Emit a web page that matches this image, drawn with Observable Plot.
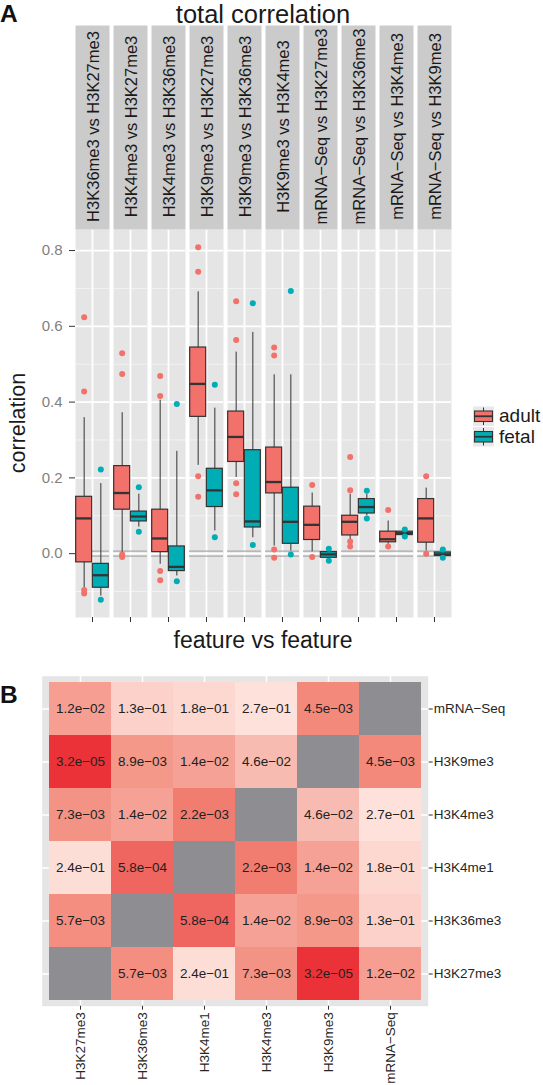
<!DOCTYPE html>
<html>
<head>
<meta charset="utf-8">
<script src="https://cdn.jsdelivr.net/npm/d3@7"></script>
<script src="https://cdn.jsdelivr.net/npm/@observablehq/plot@0.6"></script>
<style>
  body { margin: 0; background: #fff; }
  #wrap { position: relative; width: 543px; height: 1085px; overflow: hidden; background: #fff;
          font-family: "Liberation Sans", Arial, Helvetica, sans-serif; }
  #wrap > svg { position: absolute; left: 0; margin: 0; }
</style>
</head>
<body>
<div id="wrap"></div>
<script>
// ---------------- Panel A data ----------------
const comparisons = [
  "H3K36me3 vs H3K27me3", "H3K4me3 vs H3K27me3", "H3K4me3 vs H3K36me3",
  "H3K9me3 vs H3K27me3", "H3K9me3 vs H3K36me3", "H3K9me3 vs H3K4me3",
  "mRNA-Seq vs H3K27me3", "mRNA-Seq vs H3K36me3", "mRNA-Seq vs H3K4me3", "mRNA-Seq vs H3K9me3"
];
const groups = ["adult", "fetal"];

const adultWhiskerLow  = [-0.090, 0.003, -0.028, 0.233, 0.201, 0.020, 0.005, 0.033, 0.025, 0.007];
const adultQ1          = [-0.023, 0.116,  0.004, 0.361, 0.242, 0.159, 0.036, 0.048, 0.030, 0.029];
const adultMedian      = [ 0.093, 0.160,  0.040, 0.448, 0.308, 0.189, 0.076, 0.084, 0.038, 0.093];
const adultQ3          = [ 0.150, 0.231,  0.116, 0.544, 0.375, 0.280, 0.124, 0.100, 0.058, 0.144];
const adultWhiskerHigh = [ 0.359, 0.372,  0.405, 0.691, 0.532, 0.472, 0.160, 0.157, 0.086, 0.173];
const adultOutliers = [
  [0.624, 0.428, -0.096, -0.105], [0.529, 0.474, -0.002, -0.009], [0.469, 0.416, -0.046, -0.070],
  [0.809, 0.744, 0.204, 0.150], [0.666, 0.564, 0.186, 0.157], [0.544, 0.523, 0.011, -0.011],
  [0.181, -0.009], [0.255, 0.167, 0.032, 0.019], [0.115, 0.019], [0.204, 0.000]
];

const fetalWhiskerLow  = [-0.112, 0.070, -0.059, 0.060, 0.042, 0.007, -0.015, 0.100, 0.049, -0.009];
const fetalQ1          = [-0.090, 0.085, -0.046, 0.123, 0.069, 0.026, -0.011, 0.106, 0.049, -0.006];
const fetalMedian      = [-0.057, 0.098, -0.035, 0.167, 0.085, 0.084, -0.002, 0.123, 0.054, -0.002];
const fetalQ3          = [-0.027, 0.111,  0.019, 0.224, 0.273, 0.174,  0.004, 0.144, 0.058,  0.003];
const fetalWhiskerHigh = [ 0.185, 0.157,  0.270, 0.384, 0.584, 0.472,  0.009, 0.157, 0.058,  0.006];
const fetalOutliers = [
  [0.222, -0.122], [0.175, 0.058], [0.395, -0.073], [0.446, 0.043], [0.661, 0.023],
  [0.693, -0.002], [0.013, -0.019], [0.166, 0.093], [0.064, 0.045], [0.011, -0.011]
];

const yTicks = [0, 0.2, 0.4, 0.6, 0.8];
const yMinorTicks = [-0.1, 0.1, 0.3, 0.5, 0.7];
const zeroBand = [-0.0065, 0.0065];

// ---------------- Panel B data ----------------
const features = ["H3K27me3", "H3K36me3", "H3K4me1", "H3K4me3", "H3K9me3", "mRNA-Seq"];
const pValues = [
  [null,   5.7e-3, 2.4e-1, 7.3e-3, 3.2e-5, 1.2e-2],
  [5.7e-3, null,   5.8e-4, 1.4e-2, 8.9e-3, 1.3e-1],
  [2.4e-1, 5.8e-4, null,   2.2e-3, 1.4e-2, 1.8e-1],
  [7.3e-3, 1.4e-2, 2.2e-3, null,   4.6e-2, 2.7e-1],
  [3.2e-5, 8.9e-3, 1.4e-2, 4.6e-2, null,   4.5e-3],
  [1.2e-2, 1.3e-1, 1.8e-1, 2.7e-1, 4.5e-3, null]
];

// ---------------- build tables ----------------
const stats = {
  adult: {lo: adultWhiskerLow, q1: adultQ1, med: adultMedian, q3: adultQ3, hi: adultWhiskerHigh, out: adultOutliers},
  fetal: {lo: fetalWhiskerLow, q1: fetalQ1, med: fetalMedian, q3: fetalQ3, hi: fetalWhiskerHigh, out: fetalOutliers}
};
const boxes = comparisons.flatMap((c, i) => groups.map(g => ({
  comparison: c, group: g,
  lo: stats[g].lo[i], q1: stats[g].q1[i], med: stats[g].med[i], q3: stats[g].q3[i], hi: stats[g].hi[i]
})));
const outliers = comparisons.flatMap((c, i) => groups.flatMap(g =>
  stats[g].out[i].map(v => ({comparison: c, group: g, value: v}))));

// y domain like ggplot: data extent expanded by 5%
const allY = boxes.flatMap(d => [d.lo, d.hi]).concat(outliers.map(d => d.value));
const [yMin, yMax] = d3.extent(allY);
const pad = (yMax - yMin) * 0.05;
const yDomain = [yMin - pad, yMax + pad];

// dodge slots within each facet (facet-local x in [0, 1])
const slot = {adult: [0.02, 0.49], fetal: [0.51, 0.98]};
const mid = g => (slot[g][0] + slot[g][1]) / 2;
const minus = s => s.replace(/-/g, "\u2212");

const FONT = '"Liberation Sans", Arial, Helvetica, sans-serif';
const colors = ["#F2716B", "#00ADB4"];

const W = 543, H1 = 670;
const mTop = 229, mBottom = 53;
const stripTop = 25;
const innerH = H1 - mTop - mBottom;

const plotA = Plot.plot({
  width: W, height: H1,
  marginTop: mTop, marginBottom: mBottom, marginLeft: 74, marginRight: 91,
  style: {fontFamily: FONT, background: "transparent"},
  fx: {domain: comparisons, paddingInner: 0.11, paddingOuter: 0, axis: null, label: null},
  x: {domain: [0, 1], axis: null, label: null},
  y: {domain: yDomain, axis: null, label: null},
  color: {domain: groups, range: colors},
  marks: [
    Plot.frame({fill: "#E5E5E5", stroke: "none"}),
    Plot.ruleY(yMinorTicks, {stroke: "#F2F2F2", strokeWidth: 1}),
    Plot.ruleY(yTicks, {stroke: "#FFFFFF", strokeWidth: 1.8}),
    Plot.ruleX([0.5], {stroke: "#FFFFFF", strokeWidth: 1.8}),
    Plot.ruleY(zeroBand, {stroke: "#A9A9A9", strokeWidth: 1.3}),
    Plot.ruleX(boxes, {fx: "comparison", x: d => mid(d.group), y1: "lo", y2: "hi", stroke: "#333333", strokeWidth: 1}),
    Plot.rect(boxes, {fx: "comparison", x1: d => slot[d.group][0], x2: d => slot[d.group][1],
      y1: "q1", y2: "q3", fill: "group", stroke: "#333333", strokeWidth: 1.2}),
    Plot.ruleY(boxes, {fx: "comparison", x1: d => slot[d.group][0], x2: d => slot[d.group][1],
      y: "med", stroke: "#333333", strokeWidth: 2.3}),
    Plot.dot(outliers, {fx: "comparison", x: d => mid(d.group), y: "value", fill: "group", r: 3, stroke: "none"}),
    // facet strips
    Plot.frame({fill: "#CBCBCB", stroke: "none", insetTop: -(mTop - stripTop), insetBottom: innerH}),
    Plot.text(comparisons, {fx: d => d, text: d => minus(d), frameAnchor: "top",
      rotate: -90, dx: -5.5, dy: -(mTop - stripTop) / 2 - 1, fontSize: 16.5, fill: "#1A1A1A"}),
    Plot.axisY(yTicks, {tickSize: 6, tickPadding: 7, tickFormat: d3.format(".1f"), fontSize: 15,
      fill: "#7F7F7F", stroke: "#333333", label: null}),
    Plot.axisX([0.5], {tickSize: 5, tickFormat: () => "", stroke: "#333333", label: null})
  ]
});
plotA.style.top = "0px";

// ---------------- Panel B ----------------
const cells = features.flatMap((r, i) => features.map((c, j) => ({row: r, col: c, p: pValues[i][j]})));
const cellsNA = cells.filter(d => d.p == null);
const cellsVal = cells.filter(d => d.p != null);
const fmtP = p => {
  const [m, e] = p.toExponential(1).split("e");
  const n = Math.abs(+e);
  return m + "e" + (+e < 0 ? "\u2212" : "+") + String(n).padStart(2, "0");
};

const H2 = 415;
const plotB = Plot.plot({
  width: W, height: H2,
  marginTop: 10.7, marginBottom: 84.3, marginLeft: 46.7, marginRight: 120.3,
  style: {fontFamily: FONT, background: "transparent"},
  x: {domain: features, padding: 0, axis: null, label: null},
  y: {domain: features.slice().reverse(), padding: 0, axis: null, label: null},
  color: {type: "linear", domain: [Math.log10(3.2e-5), Math.log10(4.5e-3), Math.log10(2.7e-1)],
          range: ["#EB3238", "#F2897A", "#FDE1DA"], interpolate: "rgb"},
  marks: [
    Plot.frame({fill: "#E5E5E5", stroke: "none", inset: -5}),
    Plot.gridX({stroke: "#FFFFFF", strokeOpacity: 1, strokeWidth: 1.5, insetTop: -5, insetBottom: -5}),
    Plot.gridY({stroke: "#FFFFFF", strokeOpacity: 1, strokeWidth: 1.5, insetLeft: -5, insetRight: -5}),
    Plot.cell(cellsNA, {x: "col", y: "row", fill: "#8E8E92", inset: 0}),
    Plot.cell(cellsVal, {x: "col", y: "row", fill: d => Math.log10(d.p), inset: 0}),
    Plot.text(cellsVal, {x: "col", y: "row", text: d => fmtP(d.p), fontSize: 13.5, fill: "#222222"}),
    Plot.axisY({anchor: "right", tickSize: 4, tickPadding: 1.5, dx: 5, fontSize: 13.5,
      tickFormat: minus, fill: "#262626", stroke: "#333333", label: null}),
    Plot.axisX({anchor: "bottom", tickRotate: -90, tickSize: 4, tickPadding: 2, dy: 5, fontSize: 13.5,
      tickFormat: minus, fill: "#262626", stroke: "#333333", label: null})
  ]
});
plotB.style.top = H1 + "px";

const wrap = document.getElementById("wrap");
wrap.appendChild(plotA);
wrap.appendChild(plotB);

// ---------------- titles, panel letters, legend ----------------
const ov = d3.create("svg")
  .attr("width", W).attr("height", 1085)
  .style("position", "absolute").style("left", "0px").style("top", "0px")
  .style("pointer-events", "none").style("font-family", FONT);

ov.append("text").attr("x", 0).attr("y", 21.5).attr("font-size", 24.5).attr("font-weight", "bold")
  .attr("fill", "#111").text("A");
ov.append("text").attr("x", 0).attr("y", H1 + 33).attr("font-size", 24.5).attr("font-weight", "bold")
  .attr("fill", "#111").text("B");
ov.append("text").attr("x", 263).attr("y", 23).attr("font-size", 25.5).attr("text-anchor", "middle")
  .attr("fill", "#1A1A1A").text("total correlation");
ov.append("text").attr("x", 263).attr("y", 648).attr("font-size", 23).attr("text-anchor", "middle")
  .attr("fill", "#1A1A1A").text("feature vs feature");
ov.append("text").attr("transform", `translate(25,${mTop + innerH / 2}) rotate(-90)`)
  .attr("font-size", 21.5).attr("text-anchor", "middle").attr("fill", "#1A1A1A").text("correlation");

const colorScale = plotA.scale("color");
groups.forEach((g, i) => {
  const y0 = 406.5 + i * 20.5;
  const k = ov.append("g").attr("transform", `translate(473,${y0})`);
  k.append("rect").attr("width", 21).attr("height", 19.5).attr("fill", "#E8E8E8");
  k.append("line").attr("x1", 10.5).attr("x2", 10.5).attr("y1", 1).attr("y2", 18.5)
    .attr("stroke", "#333").attr("stroke-width", 1);
  k.append("rect").attr("x", 1.5).attr("y", 4.5).attr("width", 18).attr("height", 10.5)
    .attr("fill", colorScale.apply(g)).attr("stroke", "#333").attr("stroke-width", 1.1);
  k.append("line").attr("x1", 1.5).attr("x2", 19.5).attr("y1", 9.75).attr("y2", 9.75)
    .attr("stroke", "#333").attr("stroke-width", 1.8);
  ov.append("text").attr("x", 499).attr("y", y0 + 15.5).attr("font-size", 19)
    .attr("fill", "#1A1A1A").text(g);
});

wrap.appendChild(ov.node());
</script>
</body>
</html>
